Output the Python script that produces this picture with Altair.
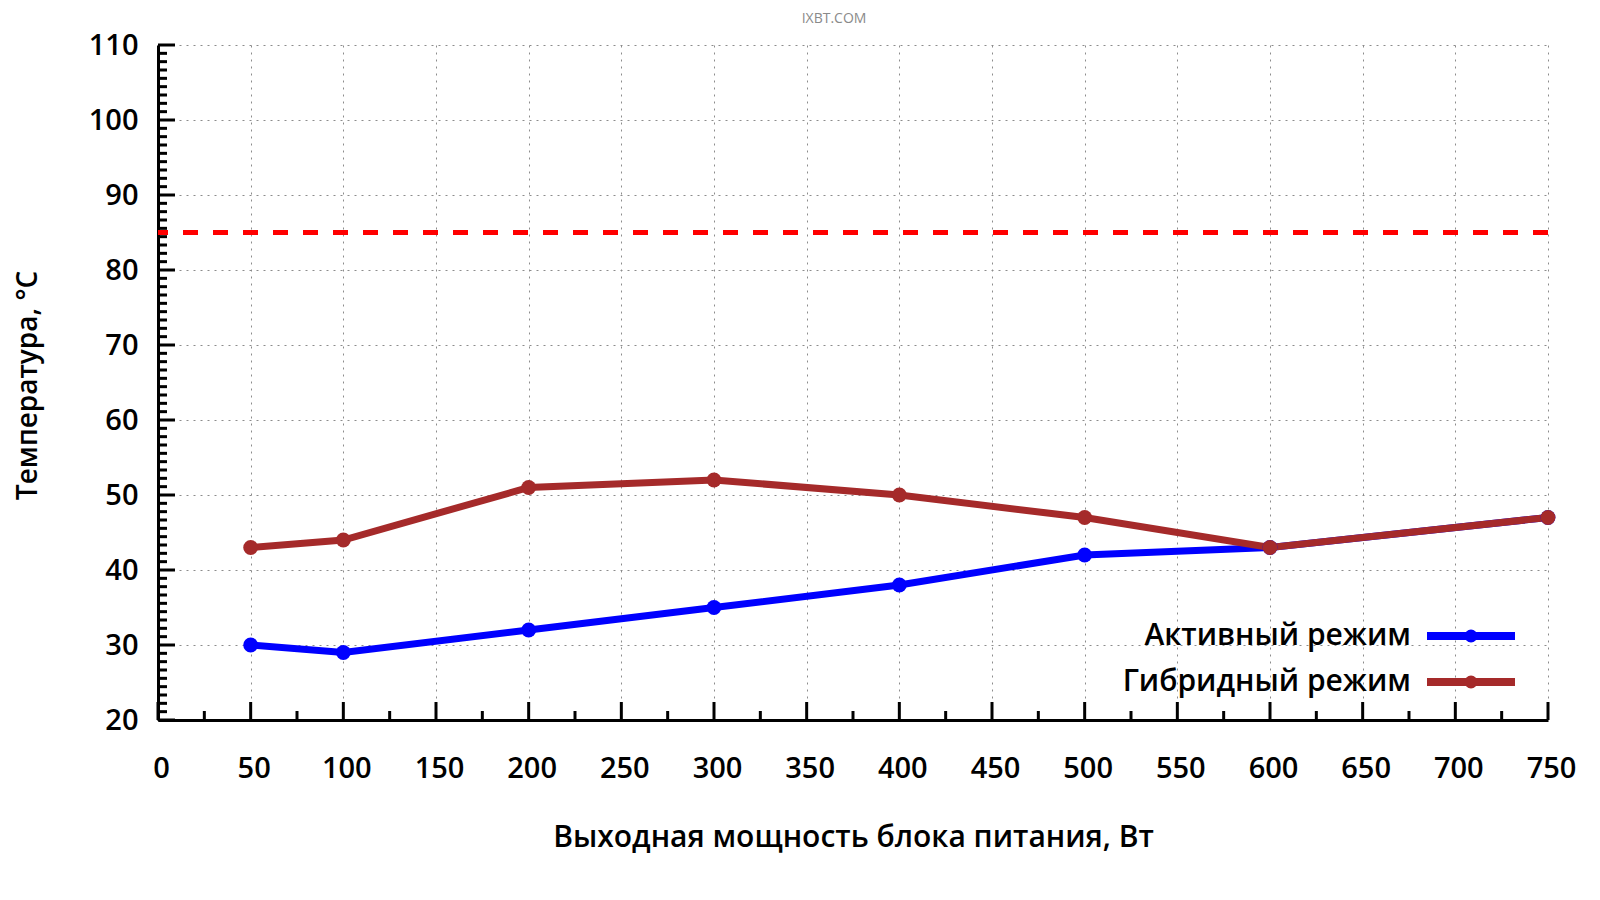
import altair as alt
import pandas as pd

power = [50, 100, 200, 300, 400, 500, 600, 750]
active = [30, 29, 32, 35, 38, 42, 43, 47]
hybrid = [43, 44, 51, 52, 50, 47, 43, 47]
series_names = ["Активный режим", "Гибридный режим"]
series_colors = ["#0000ff", "#a52a2a"]
limit = [85]

x_major = list(range(0, 751, 50))
x_minor = list(range(25, 751, 50))
y_major = list(range(20, 111, 10))
y_minor = [b + k * 10 / 9 for b in range(20, 110, 10) for k in range(1, 9)]

FONT = "Open Sans"
W, H = 1390, 675

df = pd.concat(
    [
        pd.DataFrame({"power": power, "temp": active, "mode": series_names[0]}),
        pd.DataFrame({"power": power, "temp": hybrid, "mode": series_names[1]}),
    ],
    ignore_index=True,
)

x_scale = alt.Scale(domain=[0, 750], nice=False, zero=False)
y_scale = alt.Scale(domain=[20, 110], nice=False, zero=False)

x_axis = alt.Axis(
    values=x_major, grid=True, gridDash=[2, 5], gridColor="#8c8c8c", gridWidth=1,
    ticks=False, tickSize=0, domainColor="black", domainWidth=3,
    labelFont=FONT, labelFontSize=29, labelFontWeight=600, labelColor="black",
    labelPadding=34, labelFlush=False, labelOverlap=False, labelOffset=3,
    title="Выходная мощность блока питания, Вт", titleFont=FONT, titleFontSize=30,
    titleFontWeight=600, titleColor="black", titleX=W / 2, titleY=117,
    titleBaseline="middle", titleAlign="center",
)
y_axis = alt.Axis(
    values=y_major, grid=True, gridDash=[2, 5], gridColor="#8c8c8c", gridWidth=1,
    ticks=False, tickSize=0, domainColor="black", domainWidth=3,
    labelFont=FONT, labelFontSize=29, labelFontWeight=600, labelColor="black",
    labelPadding=20, labelFlush=False, labelOverlap=False,
    title="Температура, °C", titleFont=FONT, titleFontSize=28,
    titleFontWeight=600, titleColor="black", titleX=-130, titleY=340,
    titleAngle=270, titleBaseline="middle", titleAlign="center",
)

# legend symbol: thick line with a dot, shifted right so the label sits on its left
sym = "M3.1,0L11.9,0M7.75,0A0.25,0.25,0,1,1,7.25,0A0.25,0.25,0,1,1,7.75,0Z"
legend = alt.Legend(
    title=None, orient="none", legendX=1223, legendY=576, direction="vertical",
    symbolType=sym, symbolSize=400, symbolStrokeWidth=8, padding=0,
    labelFont=FONT, labelFontSize=30, labelFontWeight=600, labelColor="black",
    labelLimit=0, labelAlign="right", labelOffset=0, rowPadding=8,
)

limit_rule = (
    alt.Chart(pd.DataFrame({"t": limit}))
    .mark_rule(color="#ff0000", strokeWidth=5, strokeDash=[15, 15])
    .encode(y=alt.Y("t:Q", scale=y_scale, axis=y_axis))
)

lines = (
    alt.Chart(df)
    .mark_line(strokeWidth=7, point=alt.OverlayMarkDef(filled=True, size=220, opacity=1))
    .encode(
        x=alt.X("power:Q", scale=x_scale, axis=x_axis),
        y=alt.Y("temp:Q", scale=y_scale, axis=y_axis),
        color=alt.Color(
            "mode:N",
            scale=alt.Scale(domain=series_names, range=series_colors),
            legend=legend,
        ),
    )
)


def x_ticks(values, length):
    return (
        alt.Chart(pd.DataFrame({"v": values}))
        .mark_rule(color="black", strokeWidth=3)
        .encode(
            x=alt.X("v:Q", scale=x_scale, axis=x_axis),
            y=alt.value(H),
            y2=alt.value(H - length),
        )
    )


def y_ticks(values, length):
    return (
        alt.Chart(pd.DataFrame({"v": values}))
        .mark_rule(color="black", strokeWidth=3)
        .encode(
            y=alt.Y("v:Q", scale=y_scale, axis=y_axis),
            x=alt.value(0),
            x2=alt.value(length),
        )
    )


chart = (
    alt.layer(
        limit_rule,
        lines,
        x_ticks(x_major, 18),
        x_ticks(x_minor, 9),
        y_ticks(y_major, 17),
        y_ticks(y_minor, 9),
    )
    .properties(
        width=W,
        height=H,
        autosize=alt.AutoSizeParams(type="none"),
        padding={"left": 150, "top": 37, "right": 44, "bottom": 160},
        title=alt.TitleParams(
            "IXBT.COM", font=FONT, fontSize=14, fontWeight="normal",
            color="#8a8a8a", anchor="middle", dx=-19, offset=5,
        ),
    )
    .configure_view(stroke=None)
)

chart.save("out.html", embed_options={"renderer": "svg", "actions": False})
